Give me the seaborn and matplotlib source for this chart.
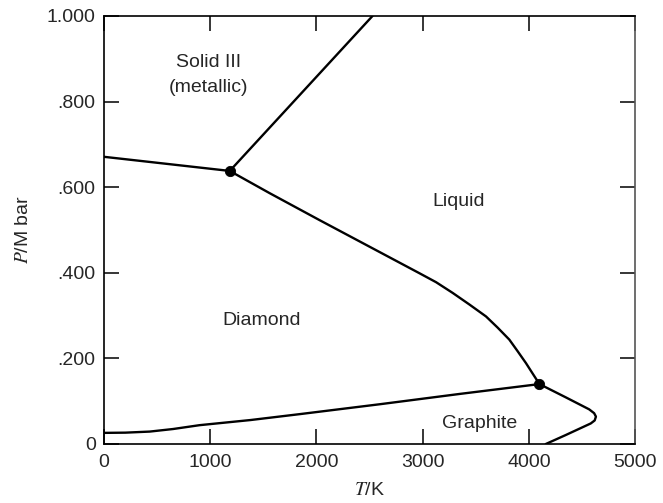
import numpy as np
import pandas as pd
import matplotlib
matplotlib.use("Agg")
import matplotlib.pyplot as plt
import seaborn as sns

# phase boundaries of carbon (T in K, P in Mbar)
T_dia_gra = [0, 200, 430, 650, 900, 1380, 1850, 2600, 3350, 4100]
P_dia_gra = [0.026, 0.0265, 0.029, 0.035, 0.044, 0.056, 0.070, 0.093, 0.117, 0.140]

T_gra_liq = [4100, 4348, 4568, 4615, 4632, 4620, 4583, 4348, 4160]
P_gra_liq = [0.140, 0.109, 0.081, 0.072, 0.064, 0.055, 0.048, 0.021, 0.0]

T_dia_liq = [1184, 1560, 2030, 2500, 2970, 3127, 3283, 3440, 3597, 3706, 3816,
             3894, 3973, 4035, 4100]
P_dia_liq = [0.638, 0.586, 0.523, 0.461, 0.399, 0.378, 0.353, 0.326, 0.298, 0.272,
             0.244, 0.217, 0.189, 0.165, 0.140]

T_dia_s3 = [0, 1184]
P_dia_s3 = [0.671, 0.638]

T_s3_liq = [1184, 2528]
P_s3_liq = [0.638, 1.0]

T_triple = [1184, 4100]
P_triple = [0.638, 0.140]

xticks = [0, 1000, 2000, 3000, 4000, 5000]
yticks = [0, 0.2, 0.4, 0.6, 0.8, 1.0]
ytick_labels = ["0", ".200", ".400", ".600", ".800", "1.000"]

regions = ["Solid III", "(metallic)", "Liquid", "Diamond", "Graphite"]
region_T = [987, 987, 3336, 1480, 3534]
region_P = [0.892, 0.834, 0.567, 0.289, 0.047]

sns.set_style("ticks")
plt.rcParams['font.family'] = ['Liberation Sans', 'DejaVu Sans']
plt.rcParams['mathtext.fontset'] = 'stix'

fig, ax = plt.subplots(figsize=(6.63, 5.03), dpi=100)
fig.subplots_adjust(left=0.1569, right=0.9578, top=0.9682, bottom=0.1173)

curves = [(T_dia_gra, P_dia_gra), (T_gra_liq, P_gra_liq), (T_dia_liq, P_dia_liq),
          (T_dia_s3, P_dia_s3), (T_s3_liq, P_s3_liq)]
for t, p in curves:
    df = pd.DataFrame({'T': t, 'P': p})
    sns.lineplot(data=df, x='T', y='P', sort=False, estimator=None, color='black',
                 linewidth=1.7, ax=ax)

sns.scatterplot(x=T_triple, y=P_triple, color='black', s=55, edgecolor='black',
                zorder=5, ax=ax)

for name, t, p in zip(regions, region_T, region_P):
    ax.text(t, p, name, ha='center', va='center', fontsize=14)

ax.set_xlim(0, 5000)
ax.set_ylim(0, 1.0)
ax.set_xticks(xticks)
ax.set_yticks(yticks)
ax.set_yticklabels(ytick_labels)
ax.tick_params(direction='in', length=11, width=1.1, top=True, right=True,
               labelsize=14, color='black')
ax.tick_params(axis='y', pad=6)
ax.tick_params(axis='x', pad=7)
for s in ax.spines.values():
    s.set_linewidth(1.2)
    s.set_color('black')
ax.spines['right'].set_color('#555555')

ax.set_xlabel(r'$T$/K', fontsize=14, labelpad=8)
ax.set_ylabel(r'$P$/M bar', fontsize=14, labelpad=11)

plt.savefig('out.png', dpi=100)
